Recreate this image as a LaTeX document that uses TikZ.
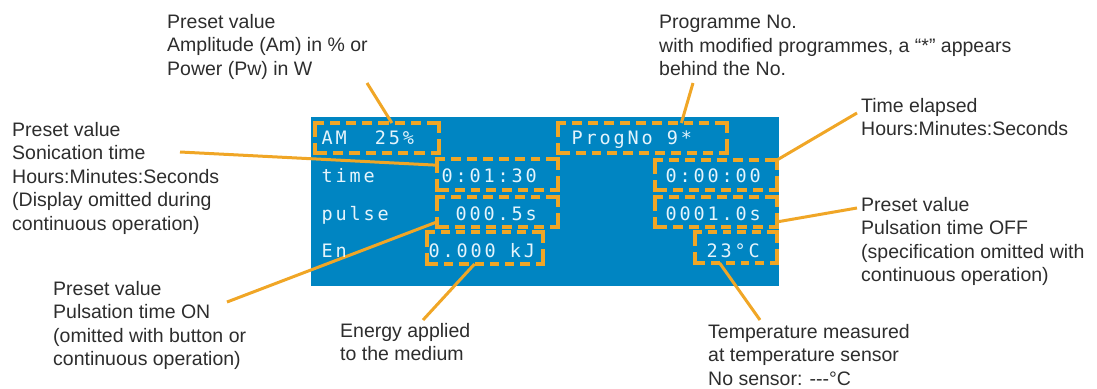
\documentclass[tikz,border=0pt]{standalone}
\usepackage{fontspec}
\setmainfont{Liberation Sans}
\newfontfamily\lcdfont[LetterSpace=15.5]{DejaVu Sans Mono}
\usetikzlibrary{calc}
\definecolor{lcdblue}{RGB}{0,133,194}
\definecolor{amber}{RGB}{240,166,38}
\definecolor{lbl}{RGB}{45,45,45}
\definecolor{lcdtxt}{RGB}{228,244,252}
\newcommand\dside[4]{%
  \pgfmathsetmacro\dsL{veclen(#3-#1,#4-#2)}%
  \pgfmathsetmacro\dsN{max(2,round((\dsL+6)/16))}%
  \pgfmathsetmacro\dsD{(\dsL-(\dsN-1)*6)/\dsN-3.5}%
  \draw[frame, dash pattern=on \dsD pt off 9.5pt] (#1,#2) -- (#3,#4);}
\newcommand\dbox[5]{%
  \pgfmathsetmacro\dbW{#4-#2}\pgfmathsetmacro\dbH{#5-#3}%
  \node[area, minimum width=\dbW pt, minimum height=\dbH pt] (#1) at (#2,#3) {};
  \dside{#2}{#3}{#4}{#3}\dside{#4}{#3}{#4}{#5}%
  \dside{#4}{#5}{#2}{#5}\dside{#2}{#5}{#2}{#3}}
\begin{document}
\begin{tikzpicture}[x=1pt,y=-1pt,
  lab/.style={anchor=north west, inner sep=0pt, align=left, text=lbl,
    font=\fontsize{19.5}{23.5}\selectfont},
  lcdtext/.style={anchor=base west, inner sep=0pt, text=lcdtxt,
    font=\lcdfont\fontsize{18.5}{18.5}\selectfont},
  conn/.style={draw=amber, line width=3pt},
  frame/.style={draw=amber, line width=3.5pt, line cap=rect},
  area/.style={inner sep=0pt, outer sep=0pt, anchor=north west}]
\useasboundingbox (0,0) rectangle (1097,388);
% display
\node[area, fill=lcdblue, minimum width=468pt, minimum height=169pt] (lcd) at (311,117) {};
% labels
\node[lab] (lAmp) at (167,14) {Preset value\\Amplitude (Am) in \% or\\Power (Pw) in W};
\node[lab] (lProg) at (659,15) {Programme No.\\with modified programmes, a “*” appears\\behind the No.};
\node[lab] (lElap) at (861,98) {Time elapsed\\Hours:Minutes:Seconds};
\node[lab] (lOff) at (861,197) {Preset value\\Pulsation time OFF\\(specification omitted with\\continuous operation)};
\node[lab] (lSon) at (12,122) {Preset value\\Sonication time\\Hours:Minutes:Seconds\\(Display omitted during\\continuous operation)};
\node[lab] (lOn) at (53,281) {Preset value\\Pulsation time ON\\(omitted with button or\\continuous operation)};
\node[lab] (lEn) at (340,323) {Energy applied\\to the medium};
\node[lab] (lTemp) at (708,324) {Temperature measured\\at temperature sensor\\No sensor: {-}{-}{-}°C};
% dashed boxes
\dbox{bAM}{315}{123}{439}{153}
\dbox{bProg}{558}{123}{727}{153}
\dbox{bTime}{437}{159}{558}{190}
\dbox{bPulse}{437}{197}{558}{227}
\dbox{bEn}{427}{232}{543}{264}
\dbox{bEl}{655}{160}{777}{190}
\dbox{bOff}{655}{197}{777}{227}
\dbox{bTemp}{695}{232}{777}{263}
% connector free ends
\coordinate (cA) at (367,83);
\coordinate (cB) at (693,83);
\coordinate (cC) at (857,113);
\coordinate (cD) at (857,208);
\coordinate (cE) at (180,152);
\coordinate (cF) at (227,302);
\coordinate (cG) at (423,320);
\coordinate (cH) at (760,320);
% connectors
\draw[conn] (cA) -- ($(bAM.north west)!0.62!(bAM.north east)$);
\draw[conn] (cB) -- ($(bProg.north west)!0.73!(bProg.north east)$);
\draw[conn] (cC) -- (bEl.north east);
\draw[conn] (cD) -- ($(bOff.south east)!0.17!(bOff.north east)$);
\draw[conn] (cE) -- ($(bTime.north west)!0.2!(bTime.south west)$);
\draw[conn] (cF) -- ($(bPulse.south west)!0.17!(bPulse.north west)$);
\draw[conn] (cG) -- ($(bEn.south west)!0.41!(bEn.south east)$);
\draw[conn] (cH) -- ($(bTemp.south west)!0.3!(bTemp.south east)$);
% display text
\node[lcdtext] (tAM) at (321.5,144) {AM\ \ 25\%};
\node[lcdtext] (tProg) at (571.5,144) {ProgNo 9*};
\node[lcdtext] (tTime) at (321.5,182) {time};
\node[lcdtext] (tPulse) at (321.5,220) {pulse};
\node[lcdtext] (tEnl) at (321.5,257) {En};
\node[lcdtext] (vTime) at (441.5,182) {0:01:30};
\node[lcdtext] (vPulse) at (455.5,220) {000.5s};
\node[lcdtext] (vEn) at (428.5,257) {0.000 kJ};
\node[lcdtext] (vEl) at (665.5,182) {0:00:00};
\node[lcdtext] (vOff) at (665.5,220) {0001.0s};
\node[lcdtext] (vTemp) at (706.5,257) {23°C};
\end{tikzpicture}
\end{document}
